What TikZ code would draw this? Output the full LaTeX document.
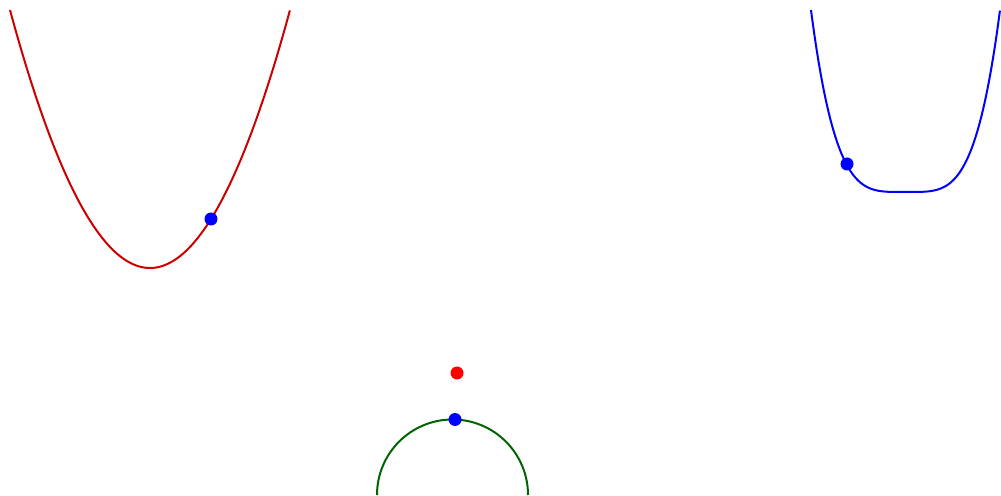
\documentclass[tikz,border=0pt]{standalone}
\begin{document}
\begin{tikzpicture}[x=0.5pt,y=-0.5pt,
  curve/.style={line width=1pt},
  dot/.style={circle,inner sep=0pt,minimum size=6.5pt,fill=#1}]
\useasboundingbox (0,0) rectangle (1001,496);
\definecolor{redc}{RGB}{204,0,0}
\definecolor{greenc}{RGB}{0,100,0}
\draw[curve,redc,domain=-1:1,samples=120,smooth] plot ({150+140*\x},{268-258*\x*\x});
\draw[curve,blue,domain=-1:1,samples=160,smooth] plot ({905.5+94.5*\x},{192-182*\x*\x*\x*\x});
\draw[curve,greenc] (377,495) arc[start angle=180,end angle=360,radius=75.5];
\node[dot=blue] (p1) at (211,219) {};
\node[dot=blue] (p2) at (847,164) {};
\node[dot=red] (p3) at (457,373) {};
\node[dot=blue] (p4) at (455,419.5) {};
\end{tikzpicture}
\end{document}
